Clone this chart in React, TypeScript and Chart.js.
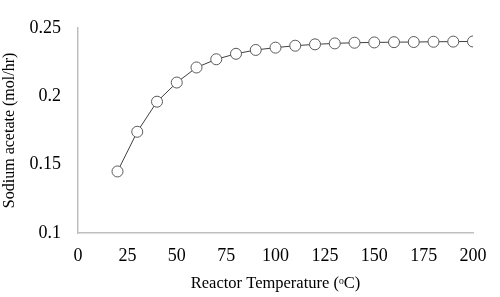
import React, { useEffect, useRef } from "react";
import { Chart, registerables } from "chart.js";

Chart.register(...registerables);

const temperatures = [20, 30, 40, 50, 60, 70, 80, 90, 100, 110, 120, 130, 140, 150, 160, 170, 180, 190, 200];
const sodiumAcetate = [0.145, 0.174, 0.196, 0.21, 0.221, 0.227, 0.231, 0.2338, 0.2355, 0.2369, 0.2379, 0.2386, 0.2391, 0.2393, 0.2395, 0.2396, 0.2398, 0.2399, 0.24];
const xTitle = "Reactor Temperature (ᵒC)";
const yTitle = "Sodium acetate (mol/hr)";

export default function App() {
  const ref = useRef<HTMLCanvasElement | null>(null);
  useEffect(() => {
    document.body.style.margin = "0";
    const ctx = ref.current!;
    const chart = new Chart(ctx, {
      type: "line",
      data: {
        datasets: [
          {
            data: temperatures.map((t, i) => ({ x: t, y: sodiumAcetate[i] })),
            borderColor: "#404040",
            borderWidth: 1,
            pointRadius: 5.5,
            pointBorderWidth: 1,
            pointBorderColor: "#595959",
            pointBackgroundColor: "#ffffff",
            fill: false,
            tension: 0,
          },
        ],
      },
      options: {
        animation: false,
        responsive: false,
        maintainAspectRatio: false,
        layout: { padding: { top: 23, right: 27, left: 0, bottom: 0 } },
        plugins: { legend: { display: false }, tooltip: { enabled: false } },
        scales: {
          x: {
            type: "linear",
            min: 0,
            max: 200,
            ticks: {
              stepSize: 25,
              color: "#000",
              padding: 12,
              font: { family: "'Liberation Serif', serif", size: 18 },
              maxRotation: 0,
            },
            grid: { display: false, drawTicks: false },
            border: { display: true, color: "#bfbfbf", width: 1.5 },
            title: {
              display: true,
              text: xTitle,
              color: "#000",
              font: { family: "'Liberation Serif', serif", size: 16.5 },
              padding: { top: 0, bottom: 3 },
            },
            afterFit: (s: any) => {
              s.height = 64;
            },
          },
          y: {
            type: "linear",
            min: 0.1,
            max: 0.25,
            ticks: {
              stepSize: 0.05,
              color: "#000",
              padding: 17,
              font: { family: "'Liberation Serif', serif", size: 18 },
              callback: (v: any) => String(Number(Number(v).toFixed(2))),
            },
            grid: { display: false, drawTicks: false },
            border: { display: true, color: "#bfbfbf", width: 1.5 },
            title: {
              display: true,
              text: yTitle,
              color: "#000",
              font: { family: "'Liberation Serif', serif", size: 16 },
              padding: { top: 0, bottom: 6 },
            },
            afterFit: (s: any) => {
              s.width = 78;
            },
          },
        },
      },
    });
    return () => chart.destroy();
  }, []);
  return (
    <div style={{ position: "absolute", left: 0, top: 0, width: 500, height: 297, background: "#fff" }}>
      <canvas ref={ref} width={500} height={297} style={{ width: 500, height: 297 }} />
    </div>
  );
}
